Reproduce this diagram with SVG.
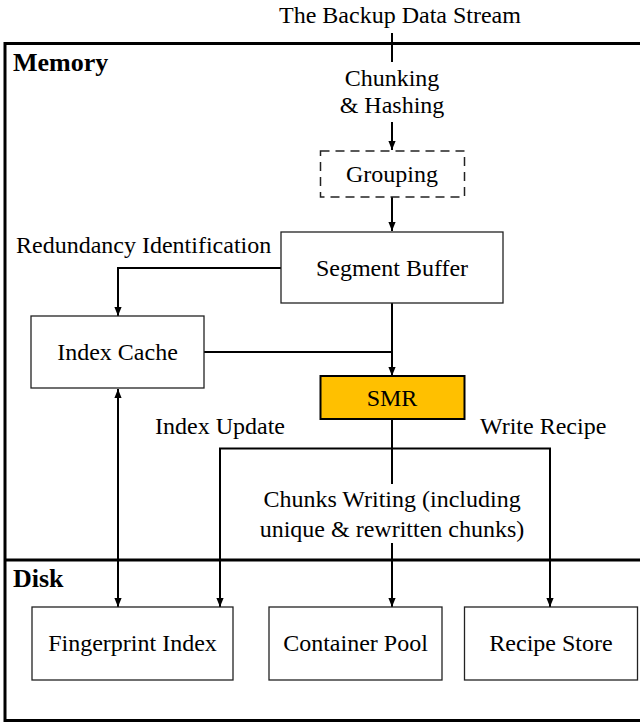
<svg xmlns="http://www.w3.org/2000/svg" width="640" height="723" viewBox="0 0 640 723">
<style>
text{font-family:"Liberation Serif","Times New Roman",serif;font-size:24px;fill:#000}
.c{text-anchor:middle}
.b{font-weight:bold;font-size:26px}
.box{fill:#fff;stroke:#222;stroke-width:1.3}
.ln{fill:none;stroke:#000;stroke-width:2}
</style>
<defs>
<marker id="ah" viewBox="0 0 10 10" refX="10" refY="5" markerWidth="9" markerHeight="9" markerUnits="userSpaceOnUse" orient="auto-start-reverse">
<path d="M0,1 L10,5 L0,9 z" fill="#000"/>
</marker>
</defs>
<g id="regions">
<rect x="5" y="43.5" width="650" height="677" fill="none" stroke="#000" stroke-width="3"/>
<line x1="5" y1="560" x2="645" y2="560" stroke="#000" stroke-width="3"/>
<text class="b" x="13" y="71">Memory</text>
<text class="b" x="13" y="587">Disk</text>
</g>
<text class="c" x="400" y="23">The Backup Data Stream</text>
<g id="connectors">
<line class="ln" x1="392" y1="33" x2="392" y2="62"/>
<line class="ln" x1="392" y1="122" x2="392" y2="150" marker-end="url(#ah)"/>
<line class="ln" x1="392" y1="197" x2="392" y2="231" marker-end="url(#ah)"/>
<polyline class="ln" points="281,268 118,268 118,316" marker-end="url(#ah)"/>
<line class="ln" x1="392" y1="303" x2="392" y2="376" marker-end="url(#ah)"/>
<line class="ln" x1="204" y1="352" x2="392" y2="352"/>
<line class="ln" x1="118" y1="389" x2="118" y2="607" marker-start="url(#ah)" marker-end="url(#ah)"/>
<line class="ln" x1="392" y1="419" x2="392" y2="484"/>
<polyline class="ln" points="220,607 220,448.5 550,448.5 550,607" marker-start="url(#ah)" marker-end="url(#ah)"/>
<line class="ln" x1="392" y1="543" x2="392" y2="607" marker-end="url(#ah)"/>
<text class="c" x="392" y="86">Chunking</text>
<text class="c" x="392" y="113">&amp; Hashing</text>
<text x="16" y="253">Redundancy Identification</text>
<text x="155" y="434">Index Update</text>
<text x="480" y="434">Write Recipe</text>
<text class="c" x="392" y="507">Chunks Writing (including</text>
<text class="c" x="392" y="537">unique &amp; rewritten chunks)</text>
</g>
<g id="grouping">
<rect x="320.5" y="151" width="144" height="46" fill="#fff" stroke="#222" stroke-width="1.5" stroke-dasharray="9,6"/>
<text class="c" x="392" y="182">Grouping</text>
</g>
<g id="segment-buffer">
<rect class="box" x="281" y="232" width="222" height="71"/>
<text class="c" x="392" y="276">Segment Buffer</text>
</g>
<g id="index-cache">
<rect class="box" x="31" y="316" width="173" height="72"/>
<text class="c" x="117.5" y="360">Index Cache</text>
</g>
<g id="smr">
<rect x="320.5" y="376" width="144" height="43" fill="#FFC000" stroke="#000" stroke-width="2"/>
<text class="c" x="392" y="406">SMR</text>
</g>
<g id="fingerprint-index">
<rect class="box" x="32" y="607" width="201" height="73"/>
<text class="c" x="132.5" y="651">Fingerprint Index</text>
</g>
<g id="container-pool">
<rect class="box" x="269" y="607" width="173" height="73"/>
<text class="c" x="355.5" y="651">Container Pool</text>
</g>
<g id="recipe-store">
<rect class="box" x="464.5" y="607" width="173" height="73"/>
<text class="c" x="551" y="651">Recipe Store</text>
</g>
</svg>
